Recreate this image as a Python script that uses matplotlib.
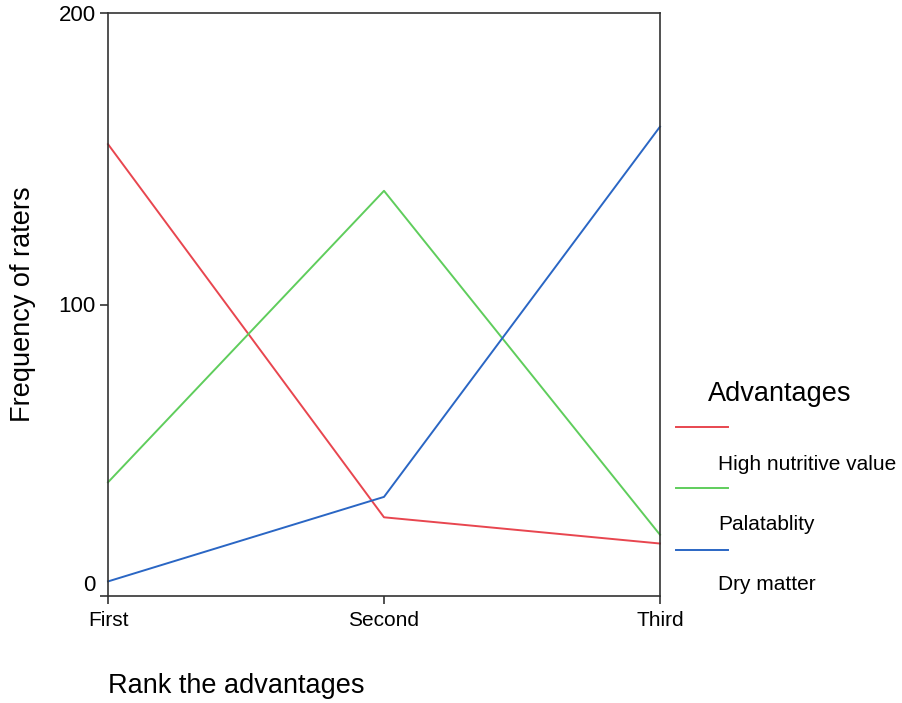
import matplotlib.pyplot as plt
from matplotlib.lines import Line2D

plt.rcParams['font.family'] = ['Liberation Sans', 'DejaVu Sans']

# data
ranks = ["First", "Second", "Third"]
high_nutritive = [155, 27, 18]
palatability = [39, 139, 21]
dry_matter = [5, 34, 161]
series_labels = ["High nutritive value", "Palatablity", "Dry matter"]
colors = ['#e8464f', '#5fcd5c', '#2a66c4']

fig = plt.figure(figsize=(9.02, 7.03), dpi=100)
ax = fig.add_axes([108 / 902, 1 - 596 / 703, 552 / 902, 583 / 703])

x_pos = list(range(len(ranks)))
for values, color in zip([high_nutritive, palatability, dry_matter], colors):
    ax.plot(x_pos, values, color=color, linewidth=1.4, clip_on=False)

ax.set_xlim(0, 2)
ax.set_ylim(0, 200)
ax.set_xticks(x_pos)
ax.set_xticklabels(ranks, fontsize=15)
ax.set_yticks([0, 100, 200])
ax.set_yticklabels(["0", "100", "200"], fontsize=16)
ax.get_yticklabels()[0].set_verticalalignment('bottom')
ax.tick_params(axis='both', direction='out', length=6, width=1.2, color='#333333', pad=3)
ax.tick_params(axis='x', pad=5)
for spine in ax.spines.values():
    spine.set_color('#333333')
    spine.set_linewidth(1.2)

ax.set_ylabel("Frequency of raters", fontsize=19.5, labelpad=16)
fig.text(108 / 902, 1 - 686 / 703, "Rank the advantages", fontsize=19.5, ha='left', va='center')

# legend drawn by hand: title, then line above each label
fig.text(708 / 902, 1 - 394 / 703, "Advantages", fontsize=19.5, ha='left', va='center')
line_y = [427, 488, 550]
text_y = [464, 524, 585]
for label, color, ly, ty in zip(series_labels, colors, line_y, text_y):
    fig.lines.append(Line2D([676 / 902, 728 / 902], [1 - ly / 703, 1 - ly / 703],
                            color=color, linewidth=1.4, transform=fig.transFigure))
    fig.text(718 / 902, 1 - ty / 703, label, fontsize=15, ha='left', va='center')

fig.savefig("out.png", dpi=100)
